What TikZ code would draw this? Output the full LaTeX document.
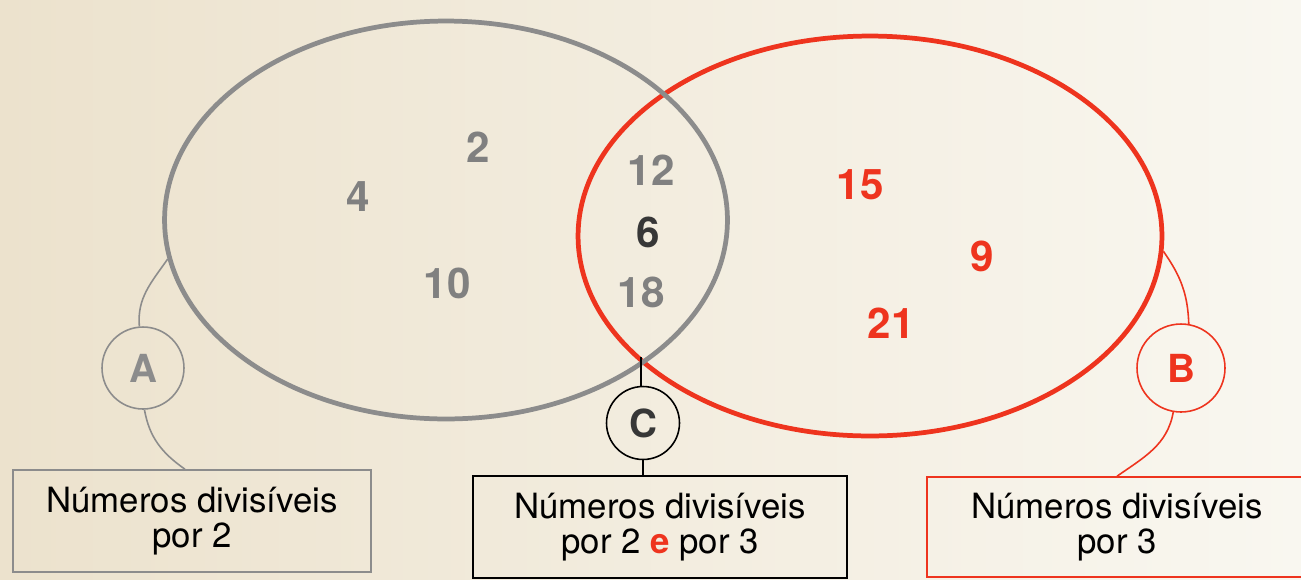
\documentclass[tikz,border=0pt]{standalone}
\usepackage{fontspec}
\setmainfont{TeX Gyre Heros}
\usepackage{xcolor}
\usetikzlibrary{shapes.geometric,positioning}
\definecolor{paperL}{RGB}{236,226,205}
\definecolor{paperR}{RGB}{249,247,240}
\definecolor{setgray}{RGB}{140,140,140}
\definecolor{setred}{RGB}{238,52,30}
\definecolor{numgray}{RGB}{128,128,128}
\definecolor{numdark}{RGB}{55,55,55}
\tikzset{
  % set outlines
  setline/.style={ellipse,draw,line width=2.7pt,inner sep=0pt},
  % circled letters
  tag/.style={circle,draw,line width=0.9pt,inner sep=0pt,font=\fontsize{22}{24}\selectfont\bfseries},
  % caption boxes
  labelbox/.style={draw,line width=0.9pt,inner sep=0pt,align=center,font=\fontsize{19.8}{20}\selectfont},
  num/.style={font=\fontsize{24}{28}\selectfont\bfseries},
  link/.style={line width=0.9pt},
}

\begin{document}
\begin{tikzpicture}[x=0.02cm,y=-0.02cm]
\clip (0,0) rectangle (1301,579);
\shade[left color=paperL,right color=paperR] (0,0) rectangle (1301,579);

%% sets (grey one drawn over the red one)
\node[setline,draw=setred,minimum width=11.68cm,minimum height=8cm] (setB) at (870,236) {};
\node[setline,draw=setgray,minimum width=11.26cm,minimum height=7.96cm] (setA) at (446,220) {};

%% elements
\foreach \x/\y/\n in {478/147/2, 358/197/4, 447/283/10, 651/170/12, 641/292/18}
  \node[num,numgray] (n\n) at (\x,\y) {\n};
\node[num,numdark] (n6) at (648,232) {6};
\foreach \x/\y/\n in {860/185/15, 982/256/9, 891/323/21}
  \node[num,setred] (n\n) at (\x,\y) {\n};

%% circled letters
\node[tag,draw=setgray,text=setgray,minimum size=1.64cm] (A) at (143,368) {A};
\node[tag,draw=black,text=numdark,minimum size=1.46cm] (C) at (643,423) {C};
\node[tag,draw=setred,text=setred,minimum size=1.76cm] (B) at (1181,368) {B};

%% captions
\node[labelbox,draw=setgray,minimum width=7.16cm,minimum height=2.04cm] (boxA) at (192,521) {Números divisíveis\\por 2};
\node[labelbox,draw=black,minimum width=7.48cm,minimum height=2.04cm] (boxC) at (660,527) {Números divisíveis\\por 2 {\color{setred}\bfseries e} por 3};
\node[labelbox,draw=setred,minimum width=7.6cm,minimum height=2cm] (boxB) at (1117,527) {Números divisíveis\\por 3};

%% connectors
\coordinate (AB) at (641,357);
\draw[link,setgray] (setA.188) to[out=235,in=95] (A.95);
\draw[link,setgray] (A.-88) to[out=-80,in=145] ([xshift=-0.14cm]boxA.north);
\draw[link,black] (AB) -- (AB |- C.north);
\draw[link,black] (C.south) -- (C.south |- boxC.north);
\draw[link,setred] (setB.-3) to[out=-55,in=92] (B.80);
\draw[link,setred] (B.-100) to[out=-100,in=35] (boxB.north);
\end{tikzpicture}
\end{document}
